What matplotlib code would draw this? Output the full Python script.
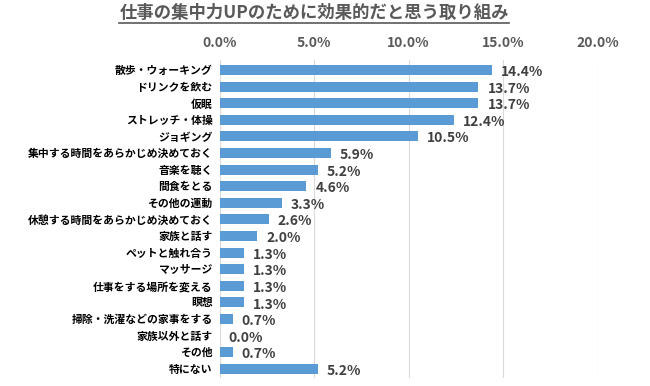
import matplotlib
matplotlib.use("Agg")
import matplotlib.pyplot as plt
from matplotlib.ticker import FuncFormatter

plt.rcParams['font.family'] = ['Noto Sans CJK JP', 'DejaVu Sans']

title = "仕事の集中力UPのために効果的だと思う取り組み"
categories = ["散歩・ウォーキング", "ドリンクを飲む", "仮眠", "ストレッチ・体操", "ジョギング",
              "集中する時間をあらかじめ決めておく", "音楽を聴く", "間食をとる", "その他の運動",
              "休憩する時間をあらかじめ決めておく", "家族と話す", "ペットと触れ合う", "マッサージ",
              "仕事をする場所を変える", "瞑想", "掃除・洗濯などの家事をする", "家族以外と話す",
              "その他", "特にない"]
values = [14.4, 13.7, 13.7, 12.4, 10.5, 5.9, 5.2, 4.6, 3.3, 2.6, 2.0, 1.3, 1.3, 1.3, 1.3,
          0.7, 0.0, 0.7, 5.2]
xticks = [0, 5, 10, 15, 20]

fig = plt.figure(figsize=(6.5, 3.86), dpi=100)
ax = fig.add_axes([219.5/650, 1-378/386, (597.5-219.5)/650, (378-60)/386])

y = list(range(len(categories)))
ax.barh(y, values, height=0.6, color='#5B9BD5', zorder=3)
ax.set_ylim(len(categories)-0.45, -0.6)
ax.set_xlim(0, 20)
ax.set_xticks(xticks)
ax.xaxis.set_major_formatter(FuncFormatter(lambda v, p: f"{v:.1f}%"))
ax.xaxis.tick_top()
ax.tick_params(axis='x', length=0, pad=7, labelsize=10, labelcolor='#595959')
for lab in ax.get_xticklabels():
    lab.set_fontweight('bold')
ax.set_yticks(y)
ax.set_yticklabels(categories, fontsize=7.8, fontweight='bold', color='#000000')
ax.tick_params(axis='y', length=0, pad=5)
ax.grid(axis='x', color='#D9D9D9', linewidth=0.8, zorder=0)
for s in ax.spines.values():
    s.set_visible(False)

for yi, v in zip(y, values):
    ax.annotate(f"{v:.1f}%", (v, yi), xytext=(6.5, -1.5), textcoords='offset points',
                ha='left', va='center', fontsize=10, fontweight='bold', color='#404040')

t = fig.text(314/650, 1-13/386, title, ha='center', va='center', fontsize=12.5,
             fontweight='bold', color='#595959')
fig.canvas.draw()
bb = t.get_window_extent()
x0, x1 = bb.x0/fig.bbox.width, bb.x1/fig.bbox.width
yl = (bb.y0 - 1.0)/fig.bbox.height
fig.add_artist(plt.Line2D([x0, x1], [yl, yl], color='#595959', linewidth=1.2,
                          transform=fig.transFigure))

fig.savefig("out.png", dpi=100)
